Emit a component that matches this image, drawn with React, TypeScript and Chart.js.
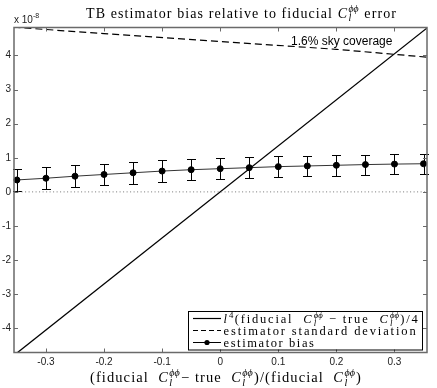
import React, { useEffect, useRef } from 'react';
import { Chart, registerables } from 'chart.js';
Chart.register(...registerables);

// values in units of 1e-8
const biasX = [-0.35, -0.3, -0.25, -0.2, -0.15, -0.1, -0.05, 0, 0.05, 0.1, 0.15, 0.2, 0.25, 0.3, 0.35];
const biasY = [0.35, 0.40, 0.46, 0.51, 0.56, 0.61, 0.65, 0.68, 0.71, 0.74, 0.76, 0.78, 0.80, 0.815, 0.825];
const biasErr = [0.33, 0.33, 0.325, 0.32, 0.32, 0.315, 0.31, 0.31, 0.305, 0.30, 0.30, 0.30, 0.295, 0.295, 0.29];

const lineX = [-0.36, 0.36];
const lineY = [-4.86, 4.86];

const stdX = [-0.356, -0.2, 0, 0.2, 0.356];
const stdY = [4.83, 4.64, 4.41, 4.18, 3.95];

const zeroX = [-0.36, 0.36];
const zeroY = [0, 0];

const xTicks = [-0.3, -0.2, -0.1, 0, 0.1, 0.2, 0.3];
const yTicks = [-4, -3, -2, -1, 0, 1, 2, 3, 4];

const annotationText = '1.6% sky coverage';
const annotationPos = { x: 0.122, y: 4.40 };

type Seg = { t: string; it?: boolean; sup?: string; sub?: string; supIt?: boolean };
const C: Seg = { t: 'C', it: true, sup: '\u03D5\u03D5', sub: 'l', supIt: true };

const titleSegs: Seg[] = [{ t: 'TB estimator bias relative to fiducial ' }, C, { t: ' error' }];
const xLabelSegs: Seg[] = [
  { t: '(fiducial  ' }, C, { t: '\u2212 true  ' }, C, { t: ')/(fiducial  ' }, C, { t: ')' },
];
const legendRows: { segs: Seg[]; kind: 'solid' | 'dashed' | 'marker'; w: number }[] = [
  { segs: [{ t: 'l', it: true, sup: '4', supIt: false }, { t: '(fiducial  ' }, C, { t: ' \u2212 true  ' }, C, { t: ')/4' }], kind: 'solid', w: 196 },
  { segs: [{ t: 'estimator standard deviation' }], kind: 'dashed', w: 194 },
  { segs: [{ t: 'estimator bias' }], kind: 'marker', w: 92 },
];

const SERIF = '"Liberation Serif", "DejaVu Serif", serif';
const SANS = '"Liberation Sans", Arial, sans-serif';

function drawRich(ctx: CanvasRenderingContext2D, segs: Seg[], x: number, y: number, size: number, align: 'left' | 'center', targetW: number, supOff = 0.42) {
  const font = (s: number, it?: boolean) => `${it ? 'italic ' : ''}${s}px ${SERIF}`;
  const anyCtx = ctx as any;
  anyCtx.letterSpacing = '0px';
  const parts: { s: Seg; mw: number; extra: number }[] = [];
  let natural = 0;
  let nChars = 0;
  for (const s of segs) {
    ctx.font = font(size, s.it);
    const mw = ctx.measureText(s.t).width;
    let extra = 0;
    if (s.sup || s.sub) {
      let a = 0, b = 0;
      if (s.sup) { ctx.font = font(size * 0.7, s.supIt); a = ctx.measureText(s.sup).width; }
      if (s.sub) { ctx.font = font(size * 0.7, true); b = ctx.measureText(s.sub).width; }
      extra = Math.max(a, b) + 1.5;
    }
    parts.push({ s, mw, extra });
    natural += mw + extra;
    nChars += s.t.length;
  }
  const sp = Math.max(0, (targetW - natural) / nChars);
  const total = natural + sp * nChars;
  let cx = align === 'center' ? x - total / 2 : x;
  ctx.textBaseline = 'alphabetic';
  ctx.textAlign = 'left';
  for (const p of parts) {
    anyCtx.letterSpacing = `${sp}px`;
    ctx.font = font(size, p.s.it);
    ctx.fillText(p.s.t, cx, y);
    cx += p.mw + sp * p.s.t.length;
    anyCtx.letterSpacing = '0px';
    if (p.s.sup || p.s.sub) {
      if (p.s.sup) { ctx.font = font(size * 0.7, p.s.supIt); ctx.fillText(p.s.sup, cx + 0.3, y - size * supOff); }
      if (p.s.sub) { ctx.font = font(size * 0.7, true); ctx.fillText(p.s.sub, cx + 0.3, y + size * 0.25); }
      cx += p.extra;
    }
  }
  anyCtx.letterSpacing = '0px';
}

const customPlugin = {
  id: 'customDraw',
  beforeDatasetsDraw(chart: any) {
    const { ctx, scales } = chart;
    const xs = scales.x, ys = scales.y;
    ctx.save();
    ctx.strokeStyle = '#000';
    ctx.lineWidth = 1;
    biasX.forEach((xv, i) => {
      const px = Math.round(xs.getPixelForValue(xv)) + 0.5;
      const top = Math.round(ys.getPixelForValue(biasY[i] + biasErr[i])) + 0.5;
      const bot = Math.round(ys.getPixelForValue(biasY[i] - biasErr[i])) + 0.5;
      ctx.beginPath();
      ctx.moveTo(px, top); ctx.lineTo(px, bot);
      ctx.moveTo(px - 4.5, top); ctx.lineTo(px + 4.5, top);
      ctx.moveTo(px - 4.5, bot); ctx.lineTo(px + 4.5, bot);
      ctx.stroke();
    });
    ctx.restore();
  },
  afterDatasetsDraw(chart: any) {
    const { ctx, chartArea: a, scales } = chart;
    const xs = scales.x, ys = scales.y;
    ctx.save();
    // annotation
    ctx.fillStyle = '#000';
    ctx.font = `12px ${SANS}`;
    ctx.textAlign = 'left';
    ctx.textBaseline = 'middle';
    ctx.fillText(annotationText, xs.getPixelForValue(annotationPos.x), ys.getPixelForValue(annotationPos.y));

    // frame and inside ticks
    ctx.strokeStyle = '#6a6a6a';
    ctx.lineWidth = 1.5;
    ctx.strokeRect(a.left, a.top, a.right - a.left, a.bottom - a.top);
    ctx.lineWidth = 1;
    const tl = 4;
    ctx.beginPath();
    xTicks.forEach((v) => {
      const px = Math.round(xs.getPixelForValue(v)) + 0.5;
      ctx.moveTo(px, a.bottom); ctx.lineTo(px, a.bottom - tl);
      ctx.moveTo(px, a.top); ctx.lineTo(px, a.top + tl);
    });
    yTicks.forEach((v) => {
      const py = Math.round(ys.getPixelForValue(v)) + 0.5;
      ctx.moveTo(a.left, py); ctx.lineTo(a.left + tl, py);
      ctx.moveTo(a.right, py); ctx.lineTo(a.right - tl, py);
    });
    ctx.stroke();

    // legend
    const lx0 = 188, lx1 = 422, ly0 = 311, ly1 = 349.5;
    ctx.fillStyle = '#fff';
    ctx.fillRect(lx0, ly0, lx1 - lx0, ly1 - ly0);
    ctx.strokeStyle = '#000';
    ctx.lineWidth = 1;
    ctx.strokeRect(lx0 + 0.5, ly0 + 0.5, lx1 - lx0, ly1 - ly0);
    const rowY = [318.5, 330.5, 342.5];
    legendRows.forEach((r, i) => {
      const yy = rowY[i];
      ctx.strokeStyle = '#000';
      ctx.lineWidth = r.kind === 'marker' ? 1 : 1.2;
      ctx.setLineDash(r.kind === 'dashed' ? [5, 3] : []);
      ctx.beginPath();
      ctx.moveTo(193, yy); ctx.lineTo(221, yy);
      ctx.stroke();
      ctx.setLineDash([]);
      if (r.kind === 'marker') {
        ctx.fillStyle = '#000';
        ctx.beginPath();
        ctx.arc(207, yy, 2.6, 0, Math.PI * 2);
        ctx.fill();
      }
      ctx.fillStyle = '#000';
      drawRich(ctx, r.segs, 223.5, yy + 4, 12.5, 'left', r.w, 0.36);
    });
    ctx.restore();
  },
  afterDraw(chart: any) {
    const { ctx } = chart;
    ctx.save();
    ctx.fillStyle = '#000';
    drawRich(ctx, titleSegs, 241.5, 17.5, 14, 'center', 311);
    drawRich(ctx, xLabelSegs, 226, 382, 14.5, 'center', 272);
    ctx.fillStyle = '#222';
    ctx.font = `10px ${SANS}`;
    ctx.textAlign = 'left';
    ctx.textBaseline = 'alphabetic';
    ctx.fillText('x 10', 14, 23);
    ctx.font = `7px ${SANS}`;
    ctx.fillText('-8', 33, 18);
    ctx.restore();
  },
};

export default function App() {
  const ref = useRef<HTMLCanvasElement | null>(null);
  useEffect(() => {
    document.body.style.margin = '0';
    const canvas = ref.current!;
    const pts = (xs: number[], ys: number[]) => xs.map((x, i) => ({ x, y: ys[i] }));
    const chart = new Chart(canvas, {
      type: 'line',
      data: {
        datasets: [
          { data: pts(zeroX, zeroY), borderColor: '#777', borderWidth: 1, borderDash: [1, 2.5], pointRadius: 0, clip: 0 } as any,
          { data: pts(lineX, lineY), borderColor: '#000', borderWidth: 1.3, pointRadius: 0, clip: 0 } as any,
          { data: pts(stdX, stdY), borderColor: '#000', borderWidth: 1.2, borderDash: [7, 4], pointRadius: 0, clip: 0 } as any,
          { data: pts(biasX, biasY), borderColor: '#333', borderWidth: 1, pointRadius: 3, pointBorderWidth: 1, pointBackgroundColor: '#000', pointBorderColor: '#000', clip: false } as any,
        ],
      },
      options: {
        animation: false,
        responsive: false,
        devicePixelRatio: 1,
        events: [],
        layout: { padding: { top: 27.5, right: 10, left: 0, bottom: 0 } },
        plugins: { legend: { display: false }, tooltip: { enabled: false }, title: { display: false } },
        scales: {
          x: {
            type: 'linear',
            min: -0.355,
            max: 0.356,
            afterFit: (s: any) => { s.height = 35.5; },
            afterBuildTicks: (s: any) => { s.ticks = xTicks.map((v) => ({ value: v })); },
            grid: { display: false, drawTicks: false },
            border: { display: false },
            ticks: {
              padding: 4,
              color: '#222',
              font: { family: SANS, size: 10 },
              callback: (v: any) => (Math.abs(Number(v)) < 1e-9 ? '0' : Number(v).toFixed(1)),
            },
          },
          y: {
            type: 'linear',
            min: -4.71,
            max: 4.82,
            afterFit: (s: any) => { s.width = 14; },
            afterBuildTicks: (s: any) => { s.ticks = yTicks.map((v) => ({ value: v })); },
            grid: { display: false, drawTicks: false },
            border: { display: false },
            ticks: {
              padding: 3,
              color: '#222',
              font: { family: SANS, size: 10 },
              callback: (v: any) => String(Math.round(Number(v))),
            },
          },
        },
      },
      plugins: [customPlugin],
    });
    return () => chart.destroy();
  }, []);
  return (
    <div style={{ position: 'fixed', left: 0, top: 0, width: 437, height: 388, background: '#fff' }}>
      <canvas ref={ref} width={437} height={388} style={{ width: 437, height: 388, display: 'block' }} />
    </div>
  );
}
